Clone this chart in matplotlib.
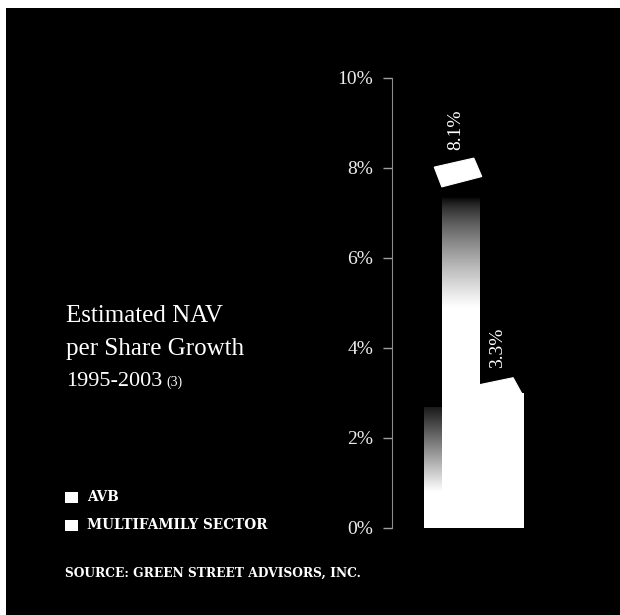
import numpy as np
import matplotlib
matplotlib.use("Agg")
import matplotlib.pyplot as plt
from matplotlib.patches import Rectangle, Polygon

# data
categories = ["AVB", "MULTIFAMILY SECTOR"]
growth = [8.1, 3.3]
value_labels = ["8.1%", "3.3%"]
yticks = [0, 2, 4, 6, 8, 10]
ytick_labels = ["0%", "2%", "4%", "6%", "8%", "10%"]

W, H = 620, 615
fig = plt.figure(figsize=(W / 100, H / 100), dpi=100)
fig.patch.set_facecolor("white")
fig.add_artist(Rectangle((6 / W, 0), 1, (H - 8) / H, transform=fig.transFigure,
                         facecolor="black", edgecolor="none", zorder=0))


def fx(px):
    return px / W


def fy(py):
    return (H - py) / H


# axes: 0% at y=528 px, 10% at y=78 px, spine at x=392 px
ax = fig.add_axes([fx(392), fy(528), 1 - fx(392), (528 - 78) / H])
ax.set_facecolor("black")
ax.set_ylim(0, 10)
ax.set_xlim(-2.09, -2.09 + 228 / 33)
for s in ["top", "right", "bottom"]:
    ax.spines[s].set_visible(False)
ax.spines["left"].set_color("#8c8c8c")
ax.spines["left"].set_linewidth(0.8)
ax.set_xticks([])
ax.set_yticks(yticks)
ax.set_yticklabels(ytick_labels, family="Liberation Serif", fontsize=14, color="#ececec")
ax.tick_params(axis="y", direction="out", length=6.5, width=1, color="#a0a0a0", pad=7)

x = np.arange(len(categories))
widths = [1.15, 1.79]
serif = "Liberation Serif"

# AVB: shaded side strip
side = ax.bar(x[0] - 0.85, 2.7, width=0.55, color="none", zorder=2)[0]
yy = np.linspace(0, 2.7, 200)[:, None]
grad = np.clip((2.9 - yy) / (2.9 - 0.8), 0, 1)
im = ax.imshow(grad[::-1], extent=[x[0] - 1.125, x[0] - 0.575, 0, 2.7], cmap="gray",
               vmin=0, vmax=1, aspect="auto", zorder=2, interpolation="bilinear")
im.set_clip_path(side)

# AVB: front face fading to black towards the top
face = ax.bar(x[0], growth[0], width=widths[0], color="none", zorder=3)[0]
yy = np.linspace(0, growth[0], 300)[:, None]
top_black = growth[0] - 0.75
grad = np.clip((top_black - yy) / (top_black - 4.9), 0, 1) ** 0.7
im = ax.imshow(grad[::-1], extent=[x[0] - widths[0] / 2, x[0] + widths[0] / 2, 0, growth[0]],
               cmap="gray", vmin=0, vmax=1, aspect="auto", zorder=3, interpolation="bilinear")
im.set_clip_path(face)

# multifamily face
ax.bar(x[1], growth[1] - 0.3, width=widths[1], color="white", edgecolor="none", zorder=2.5)

# tilted caps
cap_offsets = [
    [(-0.81, -0.08), (0.39, 0.12), (0.63, -0.29), (-0.58, -0.52)],
    [(-0.60, -0.14), (0.58, 0.04), (0.85, -0.32), (-0.32, -0.59)],
]
for xi, v, offs in zip(x, growth, cap_offsets):
    pts = [(xi + dx, v + dy) for dx, dy in offs]
    ax.add_patch(Polygon(pts, closed=True, facecolor="white", edgecolor="white",
                         linewidth=0.8, zorder=4, clip_on=False))

# value labels
label_dx = [-0.15, 0.1]
label_dy = [0.75, 0.7]
for xi, v, lab, dx, dy in zip(x, growth, value_labels, label_dx, label_dy):
    ax.text(xi + dx, v + dy, lab, rotation=90, ha="center", va="center",
            family=serif, fontsize=14, color="white", zorder=5)

# title
fig.text(fx(66), fy(322), "Estimated NAV", family=serif, fontsize=18, color="white", va="baseline")
fig.text(fx(66), fy(355), "per Share Growth", family=serif, fontsize=18, color="white", va="baseline")
fig.text(fx(66), fy(386), "1995-2003", family=serif, fontsize=16, color="white", va="baseline")
fig.text(fx(166), fy(386), "(3)", family=serif, fontsize=10, color="white", va="baseline")

# legend
legend_y = [497, 525]
for cat, ly in zip(categories, legend_y):
    fig.add_artist(Rectangle((fx(65), fy(ly + 5.5)), 13 / W, 11 / H, transform=fig.transFigure,
                             facecolor="white", edgecolor="none"))
    fig.text(fx(87), fy(ly), cat, family="DejaVu Serif", fontweight="bold", fontsize=9.8,
             color="white", va="center")

fig.text(fx(65), fy(573), "SOURCE: GREEN STREET ADVISORS, INC.", family="DejaVu Serif",
         fontweight="bold", fontsize=8.8, color="white", va="center")

fig.savefig("out.png", dpi=100)
